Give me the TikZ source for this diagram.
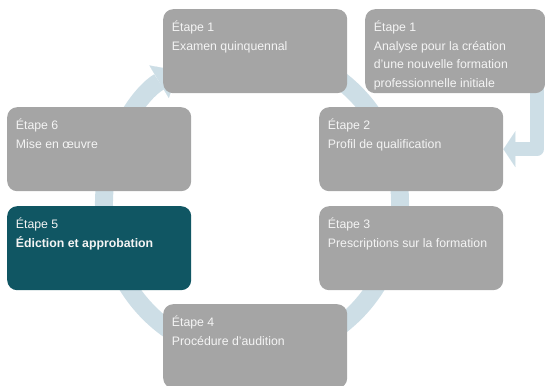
\documentclass[tikz,border=0pt]{standalone}
\usepackage{fontspec}
\setmainfont{Liberation Sans}
\usetikzlibrary{arrows.meta,backgrounds,calc}
\definecolor{boxgray}{RGB}{165,165,165}
\definecolor{tealfive}{RGB}{16,86,99}
\definecolor{ringc}{RGB}{205,222,230}
\definecolor{txtc}{RGB}{244,244,244}
\begin{document}
\begin{tikzpicture}[x=1pt,y=1pt,
  stepbox/.style={rectangle, rounded corners=10pt, fill=boxgray, minimum width=184pt,
    minimum height=84pt, inner sep=0pt, anchor=north west},
  activebox/.style={stepbox, fill=tealfive},
  steptext/.style={anchor=base west, inner sep=0pt, text=txtc,
    font=\fontsize{12.3}{18.7}\selectfont},
  flow/.style={color=ringc, -{Triangle[length=12pt,width=36pt,line width=0.1pt]}},
  ringflow/.style={color=ringc, -{Triangle[length=22pt,width=38pt,line width=0.1pt]}}]
\useasboundingbox (0,0) rectangle (545,385);
% boxes
\node[stepbox] (b1) at (163,376) {};
\node[stepbox, minimum width=180pt] (ana) at (365,376) {};
\node[stepbox] (b6) at (7,278) {};
\node[stepbox] (b2) at (319,278) {};
\node[activebox] (b5) at (7,179) {};
\node[stepbox] (b3) at (319,179) {};
\node[stepbox] (b4) at (163,81) {};
% texts
\node[steptext] (t1) at ([shift={(8.7,-22.5)}]b1.north west)
  {\parbox[t]{172pt}{Étape 1\\Examen quinquennal}};
\node[steptext] (ta) at ([shift={(8.7,-22.5)}]ana.north west)
  {\parbox[t]{172pt}{Étape 1\\Analyse pour la création\\d’une nouvelle formation\\professionnelle initiale}};
\node[steptext] (t6) at ([shift={(8.7,-22.5)}]b6.north west)
  {\parbox[t]{172pt}{Étape 6\\Mise en œuvre}};
\node[steptext] (t2) at ([shift={(8.7,-22.5)}]b2.north west)
  {\parbox[t]{172pt}{Étape 2\\Profil de qualification}};
\node[steptext] (t5) at ([shift={(8.7,-22.5)}]b5.north west)
  {\parbox[t]{172pt}{Étape 5\\\textbf{Édiction et approbation}}};
\node[steptext] (t3) at ([shift={(8.7,-22.5)}]b3.north west)
  {\parbox[t]{172pt}{Étape 3\\Prescriptions sur la formation}};
\node[steptext] (t4) at ([shift={(8.7,-22.5)}]b4.north west)
  {\parbox[t]{172pt}{Étape 4\\Procédure d’audition}};
% arrows behind
\begin{scope}[on background layer]
  \coordinate (rc) at (252,182);
  \coordinate (rs) at ($(rc)+(80:148pt and 153pt)$);
  \draw[ringflow, line width=18pt] (rs) arc[start angle=80, end angle=-240, x radius=148pt, y radius=153pt];
  \coordinate (as) at (537,300);
  \draw[flow, line width=14pt, line join=round] (as) |- (b2.east);
\end{scope}
\end{tikzpicture}
\end{document}
